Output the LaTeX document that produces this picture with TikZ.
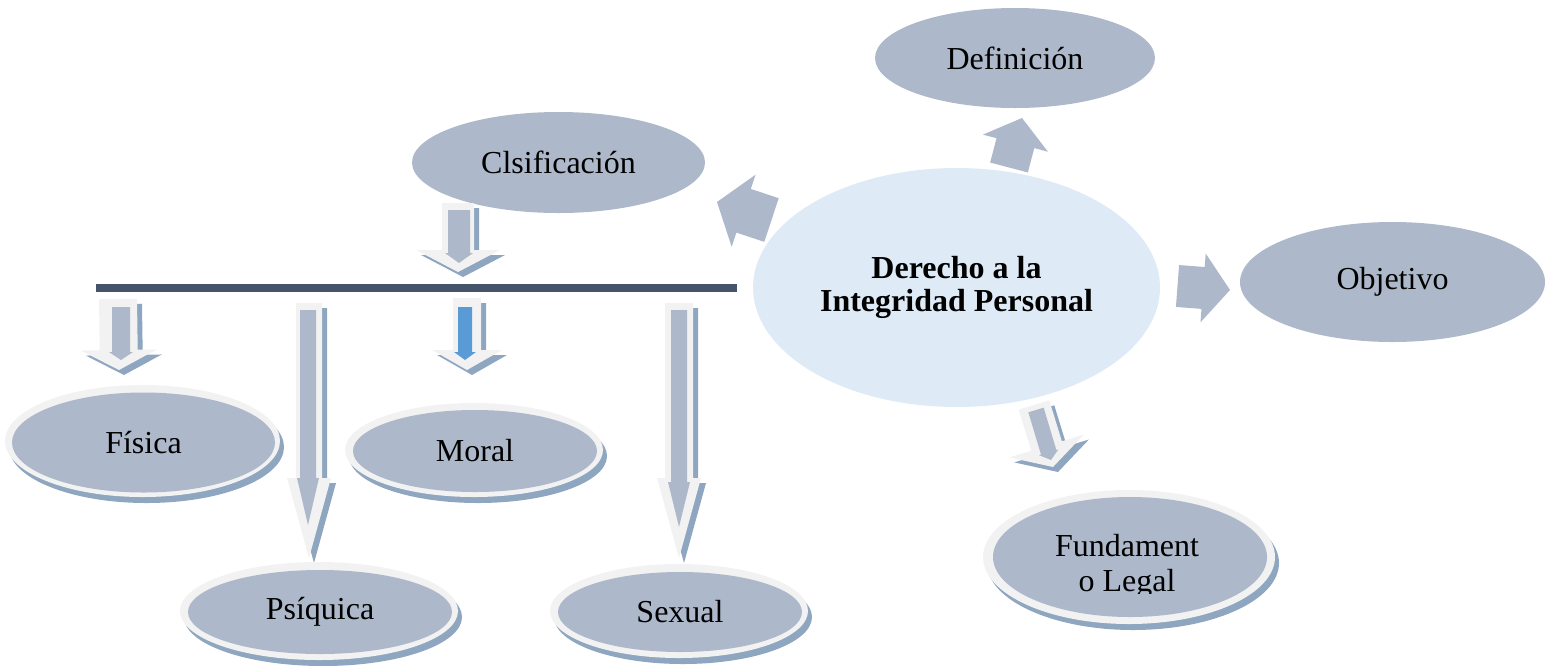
\documentclass[tikz,border=0pt]{standalone}
\usepackage{fontspec}
\setmainfont{Liberation Serif}
\usetikzlibrary{shapes.geometric,calc}
\definecolor{mainc}{HTML}{ADB9CA}
\definecolor{centc}{HTML}{DEEBF7}
\definecolor{barc}{HTML}{44546A}
\definecolor{shadc}{HTML}{8EA6BF}
\definecolor{ringc}{HTML}{F2F2F2}
\definecolor{bluec}{HTML}{5B9BD5}
% block arrow: #1 fill, (#2,#3) tail centre, (#4,#5) tip, #6 shaft half width, #7 head half width, #8 head length
\newcommand\barrow[8]{%
  \coordinate (bA) at (#2,#3);
  \coordinate (bB) at (#4,#5);
  \coordinate (bH) at ($(bB)!#8pt!(bA)$);
  \fill[#1] ($(bA)!#6pt!90:(bB)$) -- ($(bH)!#6pt!-90:(bA)$) -- ($(bH)!#7pt!-90:(bA)$) -- (bB)
    -- ($(bH)!#7pt!90:(bA)$) -- ($(bH)!#6pt!90:(bA)$) -- ($(bA)!#6pt!-90:(bB)$) -- cycle;}
% 3-D arrow: shadow + light body
\newcommand\tdarrow[7]{%
  \barrow{shadc}{#1+5}{#2+5}{#3+5}{#4+5}{#5}{#6}{#7}%
  \barrow{ringc}{#1}{#2}{#3}{#4}{#5}{#6}{#7}}
% ring + shadow under an ellipse: centre, radii
\newcommand\ringell[4]{%
  \fill[shadc] (#1+4,#2+6) ellipse [x radius=#3, y radius=#4];
  \fill[ringc] (#1,#2) ellipse [x radius=#3, y radius=#4];}
\tikzset{
  txt/.style={font=\fontsize{32}{33}\selectfont},
  ell/.style={ellipse, inner sep=0pt, fill=mainc, txt},
}
\begin{document}
\begin{tikzpicture}[x=1pt,y=-1pt]
\useasboundingbox (0,0) rectangle (1546,665);

% plain ellipses
\node[ell, minimum width=280pt, minimum height=100pt] (def) at (1015,58) {Definición};
\node[ell, minimum width=293pt, minimum height=101pt] (cls) at (558.5,162.5) {Clsificación};
\node[ell, minimum width=305pt, minimum height=120pt] (obj) at (1392.5,282) {Objetivo};
\node[ell, fill=centc, minimum width=407pt, minimum height=239pt, align=center, font=\fontsize{32}{33}\selectfont\bfseries]
  (cen) at (956.5,287.5) {Derecho a la\\Integridad Personal};

% solid arrows from the centre
\barrow{mainc}{771.5}{220}{717}{202}{23}{38}{28}
\barrow{mainc}{1009}{167.5}{1022}{118}{19.5}{33.6}{26}
\barrow{mainc}{1177.5}{286}{1230}{290}{21}{34.5}{27}

% 3-D arrows
\tdarrow{458}{203}{458}{272}{16}{42}{22}
\barrow{mainc}{459}{210}{459}{263}{11}{14}{10}
\tdarrow{118}{299}{119}{370}{19}{38}{20}
\barrow{mainc}{121}{307}{121}{360}{9}{12}{8}
\tdarrow{467}{298}{467}{370}{14}{35}{20}
\barrow{bluec}{465}{307}{465}{360}{7}{11}{8}
\tdarrow{309}{303}{309}{558}{13}{22}{80}
\barrow{mainc}{308}{310}{308}{525}{8}{11}{47}
\tdarrow{679}{303}{679}{558}{14}{22}{80}
\barrow{mainc}{679}{310}{679}{527}{8}{11}{45}
\tdarrow{1034}{405}{1053}{467}{16}{39}{22}
\barrow{mainc}{1036}{410}{1051}{460}{8}{10}{8}

% bar
\coordinate (barL) at (96,288);
\coordinate (barR) at (737,288);
\draw[barc, line width=8pt] (barL) -- (barR);

% ring ellipses
\ringell{142.5}{441}{137.5}{56}
\node[ell, minimum width=263pt, minimum height=100pt] (fis) at (143.5,442.5) {Física};
\ringell{474}{450}{129}{47}
\node[ell, minimum width=244pt, minimum height=82pt] (mor) at (475,451) {Moral};
\ringell{319}{611}{139}{49}
\node[ell, minimum width=264pt, minimum height=84pt] (psi) at (320,612) {Psíquica};
\ringell{679}{611}{129}{47}
\node[ell, minimum width=244pt, minimum height=80pt] (sex) at (680,612) {Sexual};
\ringell{1129}{557}{146}{67}
\node[ell, minimum width=274pt, minimum height=120pt] (fun) at (1130,557) {};
\begin{scope}
  \clip (980,480) rectangle (1280,593);
  \node[align=center, font=\fontsize{32}{35}\selectfont, inner sep=0pt] (funtxt) at (1127,566) {Fundament\\o Legal};
\end{scope}
\end{tikzpicture}
\end{document}
